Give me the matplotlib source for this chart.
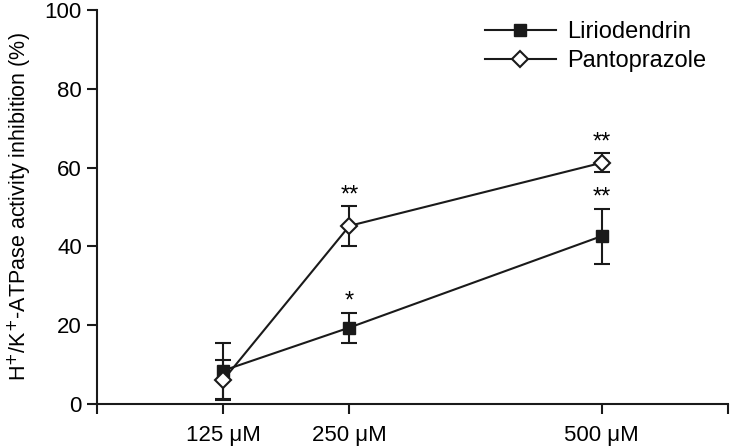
import matplotlib
matplotlib.use('Agg')
import matplotlib.pyplot as plt

plt.rcParams['font.family'] = ['Liberation Sans', 'DejaVu Sans']

# Data
doses = [125, 250, 500]
dose_labels = ['125 \u03bcM', '250 \u03bcM', '500 \u03bcM']
lirio = [8.5, 19.4, 42.6]
lirio_err = [7.1, 3.8, 7.0]
lirio_sig = ['', '*', '**']
panto = [6.1, 45.2, 61.2]
panto_err = [5.0, 5.0, 2.4]
panto_sig = ['', '**', '**']

fig = plt.figure(figsize=(7.30, 4.46), dpi=100)
ax = fig.add_axes([0.133, 0.094, 0.864, 0.884])

c1 = ax.errorbar(doses, lirio, yerr=lirio_err, color='#1a1a1a', lw=1.5,
                 marker='s', ms=8, mfc='#1a1a1a', mec='#1a1a1a',
                 capsize=5.7, capthick=1.5, elinewidth=1.5)
c2 = ax.errorbar(doses, panto, yerr=panto_err, color='#1a1a1a', lw=1.5,
                 marker='D', ms=8.5, mfc='white', mec='#1a1a1a', mew=1.5,
                 capsize=5.7, capthick=1.5, elinewidth=1.5)

# Significance stars above the upper error bars
for x, m, e, s in zip(doses, lirio, lirio_err, lirio_sig):
    if s:
        ax.annotate(s, (x, m + e), xytext=(0, 0), textcoords='offset points',
                    ha='center', va='bottom', fontsize=17)
for x, m, e, s in zip(doses, panto, panto_err, panto_sig):
    if s:
        ax.annotate(s, (x, m + e), xytext=(0, 0), textcoords='offset points',
                    ha='center', va='bottom', fontsize=17)

ax.set_xlim(0, 625)
ax.set_ylim(0, 100)
ax.set_xticks([0] + doses + [625])
ax.set_xticklabels([''] + dose_labels + [''])
ax.set_yticks([0, 20, 40, 60, 80, 100])
ax.tick_params(labelsize=16, width=1.5, length=7, color='#1a1a1a')
ax.tick_params(axis='x', pad=8)
ax.tick_params(axis='y', pad=4)

for side in ['top', 'right']:
    ax.spines[side].set_visible(False)
for side in ['left', 'bottom']:
    ax.spines[side].set_linewidth(1.5)
    ax.spines[side].set_color('#1a1a1a')

ax.set_ylabel('H$^{+}$/K$^{+}$-ATPase activity inhibition (%)', fontsize=15.5)
ax.yaxis.set_label_coords(-0.1, 0.5)

ax.legend([c1[0], c2[0]], ['Liriodendrin', 'Pantoprazole'],
          loc='upper right', frameon=False, fontsize=17,
          bbox_to_anchor=(1.0, 1.025), handlelength=3.0, handletextpad=0.5,
          labelspacing=0.3)

fig.savefig('out.png', dpi=100)
plt.close()
